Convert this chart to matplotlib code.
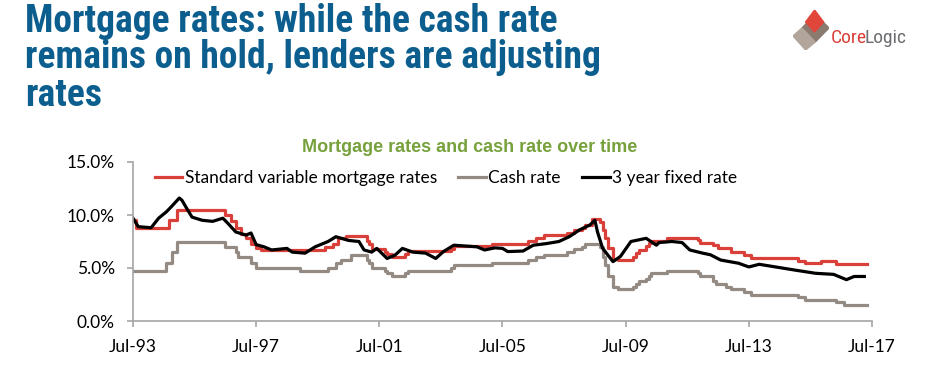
import pandas as pd
import matplotlib.pyplot as plt
import matplotlib.dates as mdates
from matplotlib import font_manager
from matplotlib.patches import Polygon

# cash rate (change points, %)
cash_dates = ['1993-07', '1994-08', '1994-10', '1994-12', '1996-07', '1996-11', '1996-12',
              '1997-05', '1997-07', '1998-12', '1999-11', '2000-02', '2000-04', '2000-08',
              '2001-02', '2001-03', '2001-04', '2001-09', '2001-10', '2001-12', '2002-05',
              '2002-06', '2003-11', '2003-12', '2005-03', '2006-05', '2006-08', '2006-11',
              '2007-08', '2007-11', '2008-02', '2008-03', '2008-09', '2008-10', '2008-11',
              '2008-12', '2009-02', '2009-04', '2009-10', '2009-11', '2009-12', '2010-03',
              '2010-04', '2010-05', '2010-11', '2011-11', '2011-12', '2012-05', '2012-06',
              '2012-10', '2012-12', '2013-05', '2013-08', '2015-02', '2015-05', '2016-05',
              '2016-08', '2017-05']
cash_vals = [4.75, 5.5, 6.5, 7.5, 7.0, 6.5, 6.0,
             5.5, 5.0, 4.75, 5.0, 5.5, 5.75, 6.25,
             5.75, 5.5, 5.0, 4.75, 4.5, 4.25, 4.5,
             4.75, 5.0, 5.25, 5.5, 5.75, 6.0, 6.25,
             6.5, 6.75, 7.0, 7.25, 7.0, 6.0, 5.25,
             4.25, 3.25, 3.0, 3.25, 3.5, 3.75, 4.0,
             4.25, 4.5, 4.75, 4.5, 4.25, 3.75, 3.5,
             3.25, 3.0, 2.75, 2.5, 2.25, 2.0, 1.75,
             1.5, 1.5]

# standard variable mortgage rate (change points, %)
svr_dates = ['1993-07', '1993-08', '1994-09', '1994-12', '1996-07', '1996-09', '1996-11',
             '1997-01', '1997-03', '1997-05', '1997-07', '1997-09', '1999-10', '2000-01',
             '2000-03', '2000-06', '2001-02', '2001-03', '2001-04', '2001-09', '2001-10',
             '2001-12', '2002-05', '2002-06', '2003-11', '2003-12', '2005-03', '2006-05',
             '2006-08', '2006-11', '2007-08', '2007-11', '2008-02', '2008-03', '2008-06',
             '2008-09', '2008-10', '2008-11', '2008-12', '2009-02', '2009-04', '2009-10',
             '2009-11', '2009-12', '2010-03', '2010-04', '2010-05', '2010-11', '2011-11',
             '2011-12', '2012-05', '2012-07', '2012-12', '2013-05', '2013-08', '2015-02',
             '2015-05', '2015-11', '2016-05', '2017-05']
svr_vals = [9.5, 8.75, 9.5, 10.5, 10.0, 9.4, 8.75,
            8.25, 7.8, 7.3, 6.85, 6.7, 6.95, 7.3,
            7.8, 8.05, 7.55, 7.3, 6.8, 6.55, 6.3,
            6.05, 6.3, 6.6, 6.8, 7.1, 7.3, 7.55,
            7.8, 8.1, 8.3, 8.55, 8.8, 9.05, 9.6,
            9.35, 8.6, 7.85, 6.85, 5.85, 5.75, 6.05,
            6.4, 6.7, 7.05, 7.35, 7.55, 7.85, 7.6,
            7.4, 7.15, 6.9, 6.55, 6.25, 5.95, 5.65,
            5.45, 5.65, 5.35, 5.35]

# 3 year fixed rate (%)
fixed_dates = ['1993-07', '1993-09', '1994-02', '1994-05', '1994-08', '1994-10', '1995-01',
               '1995-02', '1995-04', '1995-06', '1995-10', '1996-02', '1996-06', '1996-08',
               '1996-11', '1997-03', '1997-05', '1997-07', '1997-10', '1998-01', '1998-07',
               '1998-09', '1999-02', '1999-06', '1999-11', '2000-02', '2000-07', '2000-11',
               '2001-01', '2001-04', '2001-06', '2001-10', '2002-01', '2002-04', '2002-08',
               '2003-01', '2003-05', '2003-08', '2003-12', '2004-09', '2004-12', '2005-04',
               '2005-07', '2005-09', '2006-03', '2006-07', '2006-12', '2007-05', '2007-09',
               '2008-01', '2008-05', '2008-07', '2008-08', '2008-10', '2009-02', '2009-05',
               '2009-09', '2010-03', '2010-07', '2010-08', '2011-01', '2011-05', '2011-08',
               '2012-01', '2012-04', '2012-08', '2013-03', '2013-07', '2013-11', '2015-01',
               '2015-09', '2016-04', '2016-09', '2016-12', '2017-04']
fixed_vals = [9.7, 8.9, 8.8, 9.7, 10.3, 10.8, 11.6,
              11.4, 10.6, 9.8, 9.5, 9.4, 9.7, 9.2,
              8.4, 8.1, 8.3, 7.2, 7.0, 6.7, 6.85,
              6.5, 6.4, 7.0, 7.5, 7.95, 7.6, 7.5,
              6.7, 6.5, 6.85, 5.9, 6.2, 6.85, 6.5,
              6.4, 5.9, 6.55, 7.15, 7.0, 6.7, 6.9,
              6.85, 6.55, 6.6, 7.15, 7.3, 7.5, 7.95,
              8.6, 9.05, 9.5, 8.4, 6.85, 5.6, 6.1,
              7.5, 7.8, 7.15, 7.4, 7.5, 7.4, 6.7,
              6.4, 6.25, 5.75, 5.45, 5.1, 5.35, 4.8,
              4.5, 4.4, 3.9, 4.2, 4.2]

tick_years = [1993, 1997, 2001, 2005, 2009, 2013, 2017]
title_lines = ['Mortgage rates: while the cash rate',
               'remains on hold, lenders are adjusting',
               'rates']

fig = plt.figure(figsize=(9.31, 3.79), dpi=100)
fig.patch.set_facecolor('white')

# headline: prefer a narrow bold face, then size it to the reference width
installed = {f.name for f in font_manager.fontManager.ttflist}
title_font = 'Liberation Sans'
for cand in ['Liberation Sans Narrow', 'Roboto Condensed', 'Arial Narrow', 'Open Sans Condensed']:
    if cand in installed:
        title_font = cand
        break

title_texts = []
for i, line in enumerate(title_lines):
    t = fig.text(25 / 931, 1 - (21 + 37 * i) / 379, line, fontsize=25, fontweight='bold',
                 color='#0c5e8e', family=title_font, va='center')
    title_texts.append(t)
r = fig.canvas.get_renderer()
w = title_texts[1].get_window_extent(r).width
size = min(27, 25 * 638 / w)
for t in title_texts:
    t.set_fontsize(size)

# logo
lax = fig.add_axes([793 / 931, 1 - 50 / 379, 36 / 931, 40 / 379])
lax.set_xlim(0, 1)
lax.set_ylim(0, 1)
lax.axis('off')
lax.add_patch(Polygon([(0.25, 0.55), (0.62, 0.2), (1.0, 0.55), (0.62, 0.9)], color='#8a7a70'))
lax.add_patch(Polygon([(0.0, 0.35), (0.35, 0.0), (0.62, 0.2), (0.25, 0.55)], color='#b2a59b'))
lax.add_patch(Polygon([(0.35, 0.7), (0.6, 0.45), (0.85, 0.7), (0.6, 1.0)], color='#e0463a'))
core = fig.text(831 / 931, 1 - 38 / 379, 'Core', fontsize=14, color='#d9403a',
                family=title_font, va='center', ha='left')
cx = core.get_window_extent(r).x1
fig.text((cx - 2.5) / 931, 1 - 38 / 379, 'Logic', fontsize=14, color='#6d6e71',
         family=title_font, va='center', ha='left')

fig.text(470 / 931, 1 - 148 / 379, 'Mortgage rates and cash rate over time', fontsize=13,
         fontweight='bold', color='#77a13c', family='Liberation Sans', ha='center',
         va='center')

ax = fig.add_axes([133 / 931, 1 - 321 / 379, (872 - 133) / 931, (321 - 162) / 379])

svr_x = pd.to_datetime(svr_dates)
cash_x = pd.to_datetime(cash_dates)
fixed_x = pd.to_datetime(fixed_dates)

ax.step(svr_x, svr_vals, where='post', color='#d9403a', lw=2.3,
        label='Standard variable mortgage rates')
ax.step(cash_x, cash_vals, where='post', color='#938a84', lw=2.3, label='Cash rate')
ax.plot(fixed_x, fixed_vals, color='black', lw=2.3, label='3 year fixed rate')

ax.set_xlim(pd.Timestamp('1993-07-01'), pd.Timestamp('2017-07-01'))
ax.set_ylim(0, 15)
ax.set_yticks([0, 5, 10, 15])
ax.set_yticklabels(['%.1f%%' % v for v in [0, 5, 10, 15]])
ax.set_xticks([pd.Timestamp('%d-07-01' % y) for y in tick_years])
ax.xaxis.set_major_formatter(mdates.DateFormatter('%b-%y'))

for s in ['top', 'right']:
    ax.spines[s].set_visible(False)
for s in ['left', 'bottom']:
    ax.spines[s].set_color('#a6a6a6')
    ax.spines[s].set_linewidth(1.2)
ax.tick_params(axis='both', colors='#a6a6a6', length=4, width=1.2, labelcolor='black',
               labelsize=12.5, pad=9)
for lab in ax.get_xticklabels() + ax.get_yticklabels():
    lab.set_family('Lato')

ax.legend(loc='center', bbox_to_anchor=(0.4235, 0.9), ncol=3, frameon=False,
          handlelength=1.6, handletextpad=0.15, columnspacing=1.2,
          prop={'family': 'Lato', 'size': 12.5})

fig.savefig('out.png', dpi=100)
